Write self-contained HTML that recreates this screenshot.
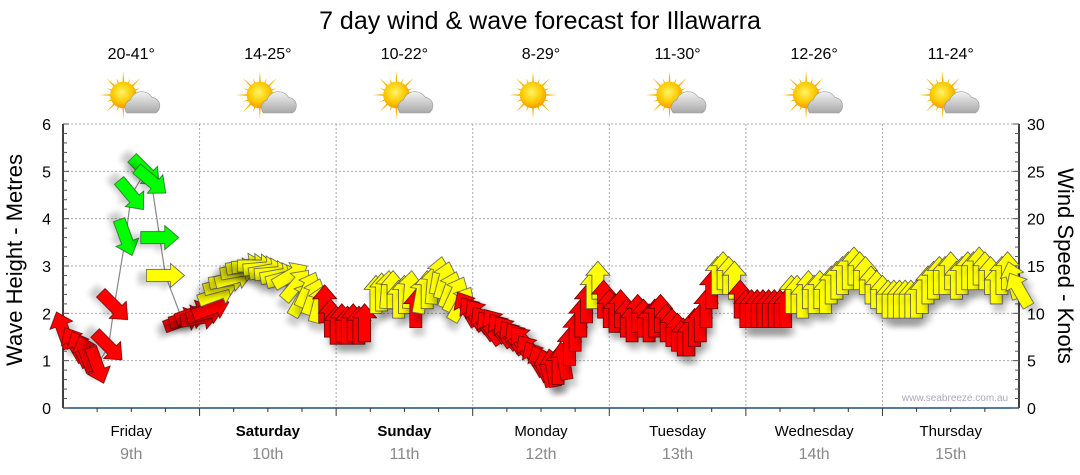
<!DOCTYPE html>
<html><head><meta charset="utf-8">
<style>
body{margin:0;background:#fff;font-family:"Liberation Sans","DejaVu Sans",sans-serif;}
svg{display:block}
</style></head>
<body>
<svg id="chart" width="1080" height="475" viewBox="0 0 1080 475">
<defs>
<filter id="sh" x="-50%" y="-50%" width="200%" height="200%"><feGaussianBlur in="SourceAlpha" stdDeviation="3"/><feOffset dx="3" dy="8" result="b"/><feComponentTransfer><feFuncA type="linear" slope="0.2"/></feComponentTransfer><feMerge><feMergeNode/><feMergeNode in="SourceGraphic"/></feMerge></filter>
<radialGradient id="sunG" cx="0.45" cy="0.4" r="0.6"><stop offset="0" stop-color="#fff36a"/><stop offset="0.6" stop-color="#ffcc00"/><stop offset="1" stop-color="#f39c00"/></radialGradient>
<linearGradient id="cloudG" x1="0" y1="0" x2="0" y2="1"><stop offset="0" stop-color="#f2f2f2"/><stop offset="1" stop-color="#a8a8a8"/></linearGradient>
</defs>
<text x="540" y="29" font-size="25" text-anchor="middle" fill="#000">7 day wind &amp; wave forecast for Illawarra</text>
<g id="grid"></g>
<g id="icons"></g>
<g id="axes"></g>
<g id="series"></g>
<text x="955" y="401" font-size="10" fill="#aab" text-anchor="middle">www.seabreeze.com.au</text>
<text transform="translate(22,260) rotate(-90)" font-size="22" text-anchor="middle">Wave Height - Metres</text>
<text transform="translate(1058,266) rotate(90)" font-size="22" text-anchor="middle">Wind Speed - Knots</text>
</svg>
<script>
const days=["Friday","Saturday","Sunday","Monday","Tuesday","Wednesday","Thursday"];
const dates=["9th","10th","11th","12th","13th","14th","15th"];
const temps=["20-41°","14-25°","10-22°","8-29°","11-30°","12-26°","11-24°"];
const sunny=[false,false,false,true,false,false,false];
const waveTicks=[0,1,2,3,4,5,6];
const windTicks=[0,5,10,15,20,25,30];
// hour from Friday 00:00, wave height (m), wind colour class, arrow heading (deg, 0=up)
const hours=[0,2,3,4,6,8,9,11,12,14.5,15.5,17,18,21,22,23,24,25,26,27,28,29,30,31,32,33,34,35,36,37,38,39,40,41,42,43,44,45,46,
47,48,49,50,51,52,53,55,56,57,58,59,60,61,62,63,64,65,66,67,68,69,70,71,
72,73,74,75,76,77,78,79,80,81,82,83,84,85,86,87,88,89,90,91,92,93,94,95,
96,97,98,99,100,101,102,103,104,105,106,107,108,109,110,111,112,113,114,115,116,117,118,119,
120,121,122,123,124,125,126,127,128,129,130,131,132,133,134,135,136,137,138,139,140,141,142,143,
144,145,146,147,148,149,150,151,152,153,154,155,156,157,158,159,160,161,162,163,164,165,166,167,168];
const waves=[1.65,1.35,1.25,1.15,0.9,1.3,2.15,3.6,4.5,5.0,4.8,3.6,2.8,1.85,1.9,2.0,1.9,2.0,2.1,2.4,2.6,2.7,2.75,2.9,3.0,3.0,3.0,2.95,2.9,2.85,2.8,2.75,2.8,2.6,2.3,2.5,2.35,2.2,2.2,
1.9,1.75,1.8,1.75,1.8,1.75,1.8,2.4,2.45,2.5,2.5,2.3,2.4,2.5,2.1,2.4,2.5,2.6,2.8,2.7,2.5,2.4,2.2,2.1,
2.0,1.95,1.8,1.7,1.75,1.65,1.6,1.5,1.45,1.4,1.2,1.05,0.95,0.85,0.85,0.9,1.0,1.3,1.6,1.9,2.2,2.5,2.7,2.3,
2.1,2.0,2.1,1.9,1.8,2.0,1.9,1.8,1.9,2.0,1.8,1.7,1.6,1.5,1.5,1.7,1.8,2.1,2.5,2.8,2.9,2.8,2.7,2.3,
2.1,2.1,2.1,2.1,2.1,2.1,2.1,2.1,2.4,2.4,2.3,2.5,2.4,2.5,2.4,2.6,2.7,2.8,2.9,3.0,2.9,2.8,2.6,2.5,
2.4,2.3,2.3,2.3,2.3,2.3,2.3,2.4,2.6,2.7,2.8,2.8,2.9,2.7,2.8,2.9,2.9,3.0,2.9,2.8,2.6,2.8,2.9,2.7,2.5];
const colours=["r","r","r","r","r","r","r","g","g","g","g","g","y","r","r","r","r","r","r","y","y","y","y","y","y","y","y","y","y","y","y","y","y","y","y","y","y","y","r",
"r","r","r","r","r","r","r","y","y","y","y","y","y","y","r","y","y","y","y","y","y","y","y","r",
"r","r","r","r","r","r","r","r","r","r","r","r","r","r","r","r","r","r","r","r","r","y","y","r",
"r","r","r","r","r","r","r","r","r","r","r","r","r","r","r","r","r","r","r","y","y","y","y","r",
"r","r","r","r","r","r","r","r","y","y","y","y","y","y","y","y","y","y","y","y","y","y","y","y",
"y","y","y","y","y","y","y","y","y","y","y","y","y","y","y","y","y","y","y","y","y","y","y","y","y"];
const headings=[-20,-30,-25,-20,160,135,135,160,140,135,130,90,90,70,75,70,80,75,70,70,75,80,75,80,80,85,90,85,80,85,80,75,60,40,30,25,20,15,0,
0,0,0,0,0,0,0,0,0,5,0,0,0,5,0,10,0,5,10,15,20,25,30,-30,
-35,-35,-35,-35,-35,-35,-35,-35,-35,-40,-35,-30,-25,-15,-10,0,-10,0,0,0,0,0,0,0,
0,0,0,0,0,0,0,0,0,0,0,0,0,0,0,0,0,0,0,0,0,0,0,0,
0,0,0,0,0,0,0,0,0,0,0,0,0,0,0,0,0,0,0,0,0,0,0,0,
0,0,0,0,0,0,0,0,0,0,0,0,0,0,0,0,0,0,0,0,0,0,0,-15,-30];

const NS="http://www.w3.org/2000/svg";
const X0=63,X1=1019,Y0=408,Y1=124;
const dayW=(X1-X0)/7;
function xH(h){return X0+h*(dayW/24);}
function yW(v){return Y0-v*(Y0-Y1)/6;}
function yK(v){return Y0-v*(Y0-Y1)/30;}
function mk(tag,attrs,parent){const e=document.createElementNS(NS,tag);for(const k in attrs)e.setAttribute(k,attrs[k]);parent.appendChild(e);return e;}
const grid=document.getElementById('grid'),axes=document.getElementById('axes'),icons=document.getElementById('icons'),series=document.getElementById('series');

waveTicks.forEach(t=>{if(t===0)return;const l=mk('line',{x1:X0,x2:X1,y1:yW(t),y2:yW(t),stroke:'#aaa','stroke-dasharray':'2,2'},grid);

});
for(let d=1;d<7;d++){const l=mk('line',{x1:X0+d*dayW,x2:X0+d*dayW,y1:Y1,y2:Y0,stroke:'#aaa','stroke-dasharray':'2,2'},grid);

}

mk('line',{x1:X0,x2:X0,y1:Y1,y2:Y0,stroke:'#000','stroke-width':1.5},axes);
mk('line',{x1:X1,x2:X1,y1:Y1,y2:Y0,stroke:'#000','stroke-width':1.5},axes);
mk('line',{x1:X0,x2:X1,y1:Y0,y2:Y0,stroke:'#1f4e79','stroke-width':1.5},axes);
for(let i=0;i<=30;i++){const y=Y0-i*(Y0-Y1)/30;
mk('line',{x1:X0,x2:X0+(i%5?4:6),y1:y,y2:y,stroke:'#555'},axes);
mk('line',{x1:X1-(i%5?4:6),x2:X1,y1:y,y2:y,stroke:'#555'},axes);}
waveTicks.forEach(t=>{const e=mk('text',{x:X0-12,y:yW(t)+6,'font-size':16,'text-anchor':'end'},axes);e.textContent=t;

});
windTicks.forEach(t=>{const e=mk('text',{x:X1+8,y:yK(t)+6,'font-size':16},axes);e.textContent=t;

});
for(let q=1;q<28;q++){const x=X0+q*dayW/4;mk('line',{x1:x,x2:x,y1:Y0,y2:Y0+(q%4?4:8),stroke:'#333'},axes);}
days.forEach((d,i)=>{const cx=X0+(i+0.5)*dayW;
const t=mk('text',{x:cx,y:436,'font-size':15,'text-anchor':'middle','font-weight':(i===1||i===2)?'bold':'normal'},axes);t.textContent=d;


const dt=mk('text',{x:cx,y:459,'font-size':16,'text-anchor':'middle',fill:'#888'},axes);dt.textContent=dates[i];


const tt=mk('text',{x:cx,y:59,'font-size':16,'text-anchor':'middle'},icons);tt.textContent=temps[i];


const g=mk('g',{transform:`translate(${cx-8},95) scale(1.2)`},icons);


for(let r=0;r<16;r++){const a=r*Math.PI/8,L=r%2?15:20;mk('polygon',{points:`${Math.cos(a-0.12)*8},${Math.sin(a-0.12)*8} ${Math.cos(a)*L},${Math.sin(a)*L} ${Math.cos(a+0.12)*8},${Math.sin(a+0.12)*8}`,fill:'#f5b400'},g);}
mk('circle',{cx:0,cy:0,r:11,fill:'url(#sunG)'},g);
if(!sunny[i]){mk('path',{d:'M3,15 a7,7 0 0 1 3,-11 a10,10 0 0 1 18,-2 a7,7 0 0 1 3,13 z',fill:'url(#cloudG)',stroke:'#999','stroke-width':0.5},g);}
});

let pts=hours.map((h,i)=>`${xH(h)},${yW(waves[i])}`).join(' ');
const pl=mk('polyline',{points:pts,fill:'none',stroke:'#888','stroke-width':1.2},series);


const fills={r:'#ff0000',y:'#ffff00',g:'#00ff00'};
const strokes={r:'#600',y:'#555',g:'#262'};
const arrowPts="0,-19 12,-5 6,-5 6,19 -6,19 -6,-5 -12,-5";
hours.forEach((h,i)=>{
const a=mk('polygon',{points:arrowPts,fill:fills[colours[i]],stroke:strokes[colours[i]],'stroke-width':0.8,filter:'url(#sh)',transform:`translate(${xH(h)},${yW(waves[i])}) rotate(${headings[i]})`},series);


});
</script>
</body></html>
